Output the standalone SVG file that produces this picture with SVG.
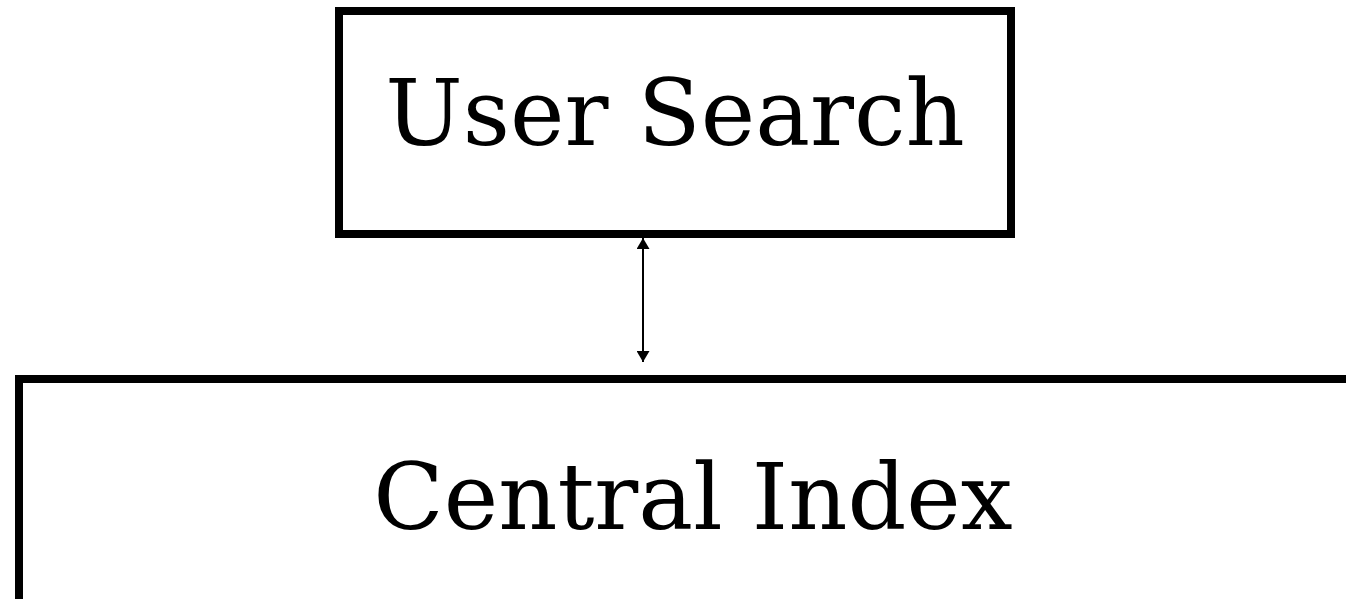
<svg xmlns="http://www.w3.org/2000/svg" width="1346" height="599" viewBox="0 0 1346 599">
<style>
.box{fill:#fff;stroke:#000;stroke-width:8}
.lbl{font-family:"DejaVu Serif",serif;font-size:92px;fill:#000;text-anchor:middle}
.conn{stroke:#000;stroke-width:2;fill:none}
</style>
<defs>
<marker id="ah" viewBox="0 0 11 13" refX="11" refY="6.5" markerWidth="11" markerHeight="13" markerUnits="userSpaceOnUse" orient="auto-start-reverse">
<path d="M0,0 L11,6.5 L0,13 Z" fill="#000"/>
</marker>
</defs>
<rect width="1346" height="599" fill="#fff"/>
<g id="node-user-search">
<rect class="box" x="339" y="11" width="672" height="223"/>
<text class="lbl" x="675" y="145">User Search</text>
</g>
<g id="node-central-index">
<rect class="box" x="19" y="379" width="1360" height="260"/>
<text class="lbl" x="693" y="529">Central Index</text>
</g>
<g id="connectors">
<line class="conn" x1="643" y1="238" x2="643" y2="362" marker-start="url(#ah)" marker-end="url(#ah)"/>
</g>
</svg>
